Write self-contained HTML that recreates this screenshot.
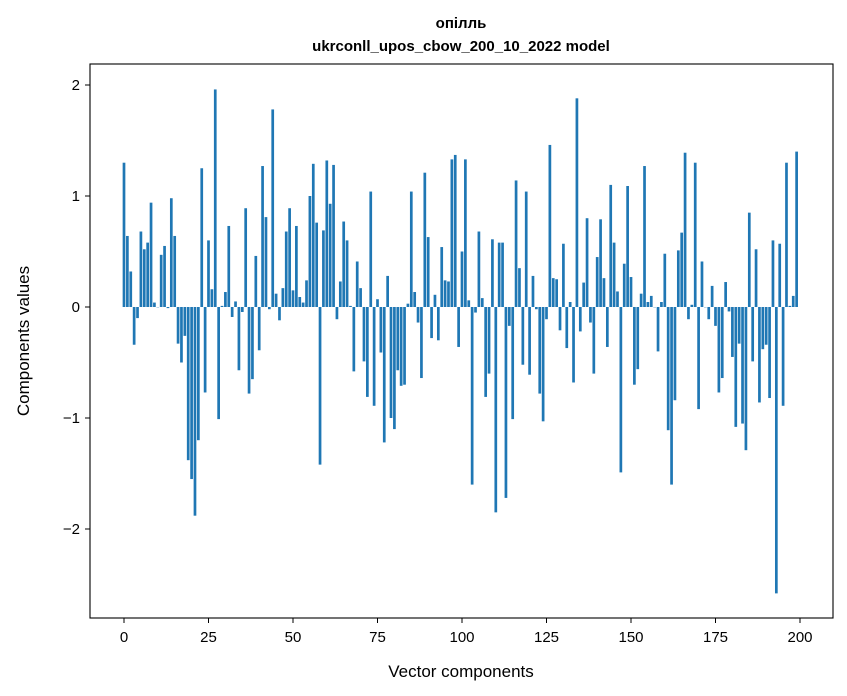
<!DOCTYPE html>
<html><head><meta charset="utf-8"><style>
body{margin:0;background:#fff;}
svg{display:block;font-family:"Liberation Sans","DejaVu Sans",sans-serif;}
</style></head><body>
<svg id="chart" width="847" height="696" viewBox="0 0 847 696">
<rect width="847" height="696" fill="#fff"/>
<text x="461" y="28" text-anchor="middle" font-size="15" font-weight="bold">опілль</text>
<text x="461" y="51" text-anchor="middle" font-size="15" font-weight="bold">ukrconll_upos_cbow_200_10_2022 model</text>
<g id="bars"></g>
<g id="xticks"></g>
<g id="yticks"></g>
<rect x="90" y="64" width="743" height="554" fill="none" stroke="#000" stroke-width="1.1"/>
<text x="461" y="677" text-anchor="middle" font-size="17">Vector components</text>
<text transform="translate(29,341) rotate(-90)" text-anchor="middle" font-size="17">Components values</text>
</svg>
<script>
const values = [1.30,0.64,0.32,-0.34,-0.10,0.68,0.52,0.58,0.94,0.04,
0,0.47,0.55,-0.01,0.98,0.64,-0.33,-0.50,-0.26,-1.38,
-1.55,-1.88,-1.20,1.25,-0.77,0.60,0.16,1.96,-1.01,0.01,
0.135,0.73,-0.09,0.05,-0.57,-0.045,0.89,-0.78,-0.65,0.46,
-0.39,1.27,0.81,-0.02,1.78,0.12,-0.12,0.17,0.68,0.89,
0.15,0.73,0.09,0.04,0.24,1.00,1.29,0.76,-1.42,0.69,
1.32,0.93,1.28,-0.11,0.23,0.77,0.60,0.01,-0.58,0.41,
0.17,-0.49,-0.81,1.04,-0.89,0.07,-0.41,-1.22,0.28,-1.00,
-1.10,-0.57,-0.71,-0.70,0.03,1.04,0.135,-0.14,-0.64,1.21,
0.63,-0.28,0.11,-0.30,0.54,0.24,0.23,1.33,1.37,-0.36,
0.50,1.33,0.06,-1.60,-0.05,0.68,0.08,-0.81,-0.60,0.61,
-1.85,0.58,0.58,-1.72,-0.17,-1.01,1.14,0.35,-0.52,1.04,
-0.61,0.28,-0.02,-0.78,-1.03,-0.11,1.46,0.26,0.25,-0.21,
0.57,-0.37,0.045,-0.68,1.88,-0.22,0.22,0.80,-0.14,-0.60,
0.45,0.79,0.26,-0.36,1.10,0.58,0.14,-1.49,0.39,1.09,
0.27,-0.70,-0.56,0.12,1.27,0.045,0.10,0,-0.40,0.045,
0.48,-1.11,-1.60,-0.84,0.51,0.67,1.39,-0.11,0.02,1.30,
-0.92,0.41,0,-0.11,0.19,-0.17,-0.77,-0.64,0.225,-0.04,
-0.45,-1.08,-0.33,-1.05,-1.29,0.85,-0.49,0.52,-0.86,-0.38,
-0.34,-0.82,0.60,-2.58,0.57,-0.89,1.30,0.01,0.10,1.40];
const xTickValues = [0,25,50,75,100,125,150,175,200];
const yTickValues = [-2,-1,0,1,2];
const yTickLabels = ["\u22122","\u22121","0","1","2"];

const NS = "http://www.w3.org/2000/svg";
function xScale(v){ return 124 + v * (676/200); }
function yScale(v){ return 307 - v * 111; }

const barsG = document.getElementById("bars");
const bw = 0.8 * 676/200;
values.forEach(function(v, i){
  const r = document.createElementNS(NS, "rect");
  const y0 = yScale(0), y1 = yScale(v);
  r.setAttribute("x", xScale(i) - bw/2);
  r.setAttribute("y", Math.min(y0, y1));
  r.setAttribute("width", bw);
  r.setAttribute("height", Math.max(Math.abs(y1 - y0), 0.3));
  r.setAttribute("fill", "#1f77b4");
  
  
  barsG.appendChild(r);
});

const xt = document.getElementById("xticks");
xTickValues.forEach(function(v){
  const x = xScale(v);
  const l = document.createElementNS(NS, "line");
  l.setAttribute("x1", x); l.setAttribute("x2", x);
  l.setAttribute("y1", 618); l.setAttribute("y2", 623);
  l.setAttribute("stroke", "#000");
  
  
  xt.appendChild(l);
  const t = document.createElementNS(NS, "text");
  t.setAttribute("x", x); t.setAttribute("y", 642);
  t.setAttribute("text-anchor", "middle"); t.setAttribute("font-size", "15");
  t.textContent = String(v);
  
  
  xt.appendChild(t);
});

const yt = document.getElementById("yticks");
yTickValues.forEach(function(v, i){
  const y = yScale(v);
  const l = document.createElementNS(NS, "line");
  l.setAttribute("x1", 85); l.setAttribute("x2", 90);
  l.setAttribute("y1", y); l.setAttribute("y2", y);
  l.setAttribute("stroke", "#000");
  
  
  yt.appendChild(l);
  const t = document.createElementNS(NS, "text");
  t.setAttribute("x", 80); t.setAttribute("y", y + 5);
  t.setAttribute("text-anchor", "end"); t.setAttribute("font-size", "15");
  t.textContent = yTickLabels[i];
  
  
  yt.appendChild(t);
});
</script>
</body></html>
